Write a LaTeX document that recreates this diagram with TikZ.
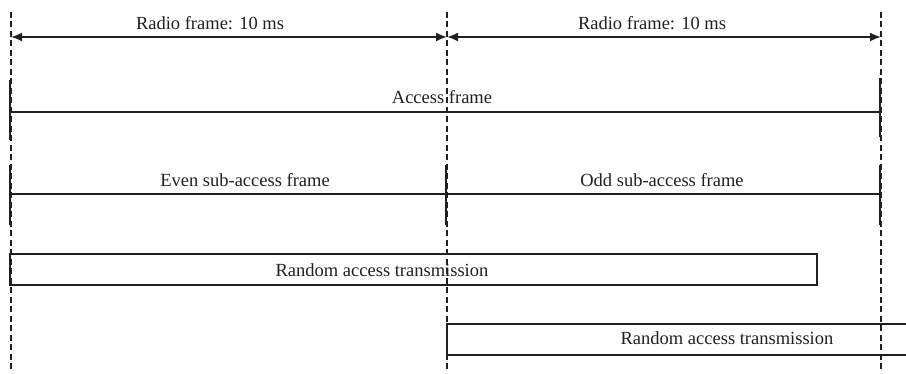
\documentclass[tikz,border=0pt]{standalone}
\usepackage{fontspec}
\setmainfont{Liberation Serif}
\usetikzlibrary{arrows.meta}
\definecolor{ink}{RGB}{35,31,32}
\begin{document}
\begin{tikzpicture}[x=1pt,y=-1pt,
  every node/.style={font=\fontsize{18.5}{22}\selectfont, text=ink, inner sep=0pt},
  guide/.style={draw=ink, line width=1.4pt, dash pattern=on 6pt off 3.5pt},
  solid line/.style={draw=ink, line width=1.6pt},
  tick/.style={draw=ink, line width=1.6pt},
  span/.style={draw=ink, line width=1.8pt, {Latex[length=11pt,width=9pt]}-{Latex[length=11pt,width=9pt]}}]
\useasboundingbox (0,0) rectangle (906,374);
% guide lines
\coordinate (g1t) at (11,12); \coordinate (g1b) at (11,372);
\coordinate (g2t) at (447,12); \coordinate (g2b) at (447,372);
\coordinate (g3t) at (881,12); \coordinate (g3b) at (881,372);
\draw[guide] (g1t) -- (g1b);
\draw[guide] (g2t) -- (g2b);
\draw[guide] (g3t) -- (g3b);
% radio frames
\coordinate (r1) at (11,37); \coordinate (r2) at (447,37); \coordinate (r3) at (881,37);
\draw[span] (r1) -- (r2);
\draw[span] (r2) -- (r3);
\node (rf1) at (210,23) {Radio frame: 10 ms};
\node (rf2) at (652,23) {Radio frame: 10 ms};
% access frame
\coordinate (a1) at (11,112); \coordinate (a3) at (881,112);
\draw[solid line] (a1) -- (a3);
\draw[tick] (10,80) -- (10,140);
\draw[tick] (880,78) -- (880,137);
\node (af) at (442,97) {Access frame};
% sub-access frames
\coordinate (s1) at (11,194); \coordinate (s3) at (881,194);
\draw[solid line] (s1) -- (s3);
\draw[tick] (10,165) -- (10,225);
\draw[tick] (446,165) -- (446,225);
\draw[tick] (880,165) -- (880,225);
\node (even) at (245,180) {Even sub-access frame};
\node (odd) at (662,180) {Odd sub-access frame};
% random access 1
\coordinate (b1a) at (10,254); \coordinate (b1b) at (817,285);
\draw[solid line] (b1a) rectangle (b1b);
\node (ra1) at (382,270) {Random access transmission};
% random access 2
\coordinate (b2tl) at (447,324); \coordinate (b2bl) at (447,355);
\coordinate (b2tr) at (906,324); \coordinate (b2br) at (906,355);
\draw[solid line] (b2tr) -- (b2tl) -- (b2bl) -- (b2br);
\node (ra2) at (727,338) {Random access transmission};
\end{tikzpicture}
\end{document}
